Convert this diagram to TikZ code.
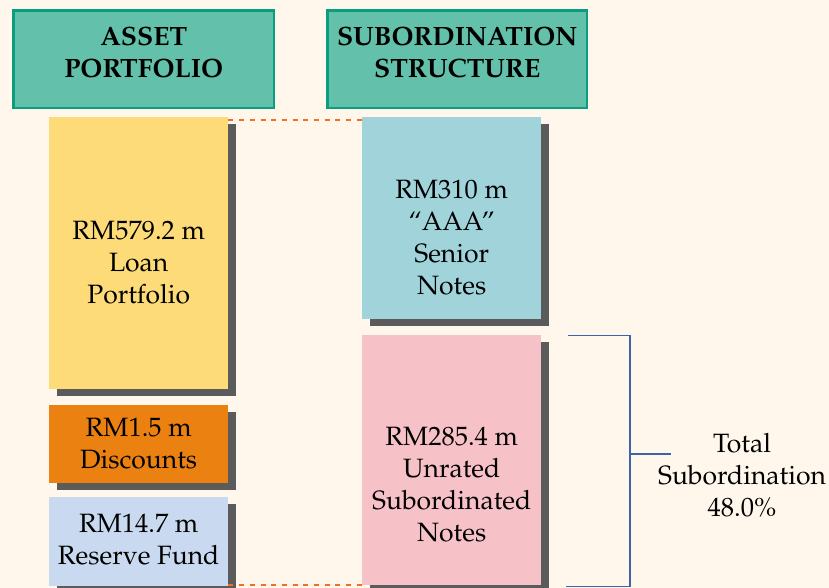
\documentclass[tikz,border=0pt]{standalone}
\usepackage[T1]{fontenc}
\usepackage{mathpazo}
\usepackage{xcolor}
\usetikzlibrary{positioning, shadows}

\definecolor{creambg}{HTML}{FFF7EB}
\definecolor{headfill}{HTML}{63C1AB}
\definecolor{headline}{HTML}{0A9E7F}
\definecolor{loanfill}{HTML}{FCDB78}
\definecolor{discfill}{HTML}{EB8110}
\definecolor{resfill}{HTML}{C9DAF0}
\definecolor{seniorfill}{HTML}{A0D4DA}
\definecolor{subfill}{HTML}{F7C1C8}
\definecolor{shadowgray}{HTML}{5B5B5B}
\definecolor{dashorange}{HTML}{EE7020}
\definecolor{bracketblue}{HTML}{3C63AF}

\tikzset{
  headbox/.style={inner sep=0pt, anchor=north west, draw=headline, line width=2.5pt, fill=headfill},
  headtext/.style={align=center, font=\fontsize{26.5}{32}\selectfont\bfseries},
  block/.style={inner sep=0pt, anchor=north west, minimum width=179pt,
    drop shadow={shadow xshift=8pt, shadow yshift=-7pt, fill=shadowgray, opacity=1}},
  blocktext/.style={align=center, font=\fontsize{26.5}{32}\selectfont},
  linkdash/.style={dashorange, line width=2.5pt, dash pattern=on 5pt off 5.7pt},
  bracket/.style={bracketblue, line width=1.2pt}
}

\begin{document}
\begin{tikzpicture}[x=1pt, y=-1pt]
\fill[creambg] (0,0) rectangle (829,588);
\useasboundingbox (0,0) rectangle (829,588);

% headings
\node[headbox, minimum width=260.5pt, minimum height=97.5pt] (assethead) at (12.25,9.25) {};
\node[headtext] (assettitle) at ([yshift=7pt]assethead.center) {ASSET\\PORTFOLIO};
\node[headbox, minimum width=259.5pt, minimum height=97.5pt] (subhead) at (326.25,9.25) {};
\node[headtext] (subtitle) at ([yshift=7pt]subhead.center) {SUBORDINATION\\STRUCTURE};

% asset side
\node[block, fill=loanfill, minimum height=272pt] (loan) at (49,117) {};
\node[block, fill=discfill, minimum height=78pt, below=15pt of loan] (discounts) {};
\node[block, fill=resfill, minimum height=89pt, below=14pt of discounts] (reserve) {};
\node[blocktext] (loantext) at ([yshift=-9pt]loan.center) {RM579.2 m\\Loan\\Portfolio};
\node[blocktext] (disctext) at (discounts.center) {RM1.5 m\\Discounts};
\node[blocktext] (restext) at ([yshift=1.5pt]reserve.center) {RM14.7 m\\Reserve Fund};

% liability side
\node[block, fill=seniorfill, minimum height=202pt] (senior) at (362,117) {};
\node[block, fill=subfill, minimum height=250pt, below=15pt of senior] (unrated) {};
\node[blocktext] (seniortext) at ([yshift=-19pt]senior.center) {RM310 m\\``AAA''\\Senior\\Notes};
\node[blocktext] (unratedtext) at ([yshift=-25pt]unrated.center) {RM285.4 m\\Unrated\\Subordinated\\Notes};

% links between the two sides
\draw[linkdash] ([yshift=-3pt]loan.north east) -- ([yshift=-3pt]senior.north west);
\draw[linkdash] ([yshift=1pt]reserve.south east) -- ([yshift=1pt]reserve.south east -| unrated.south west);

% subordination bracket
\coordinate (brtop) at ([xshift=27pt,yshift=-1pt]unrated.north east);
\coordinate (brbot) at ([xshift=25pt,yshift=-2pt]unrated.south east);
\coordinate (brspine) at (630,454);
\draw[bracket] (brtop) -| (brbot -| brspine) -- (brbot);
\draw[bracket] (brspine) -- ++(41,0) coordinate (brtip);
\node[blocktext] (totalsub) at (742,475) {Total\\Subordination\\48.0\%};
\end{tikzpicture}
\end{document}
